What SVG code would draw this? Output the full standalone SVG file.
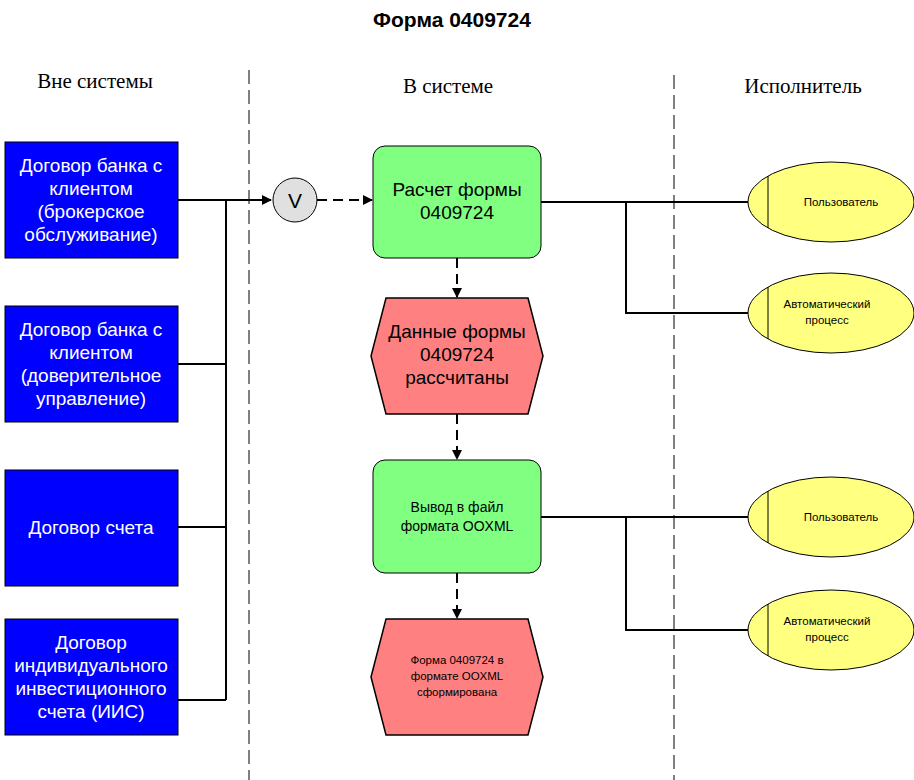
<svg xmlns="http://www.w3.org/2000/svg" width="914" height="780" viewBox="0 0 914 780">
<style>
.blue{fill:#0000ff;stroke:#000;stroke-width:1}
.green{fill:#80ff80;stroke:#000;stroke-width:1}
.red{fill:#ff8080;stroke:#000;stroke-width:1.5}
.yel{fill:#ffff80;stroke:#000;stroke-width:1}
.ln{fill:none;stroke:#000;stroke-width:2}
.dash{fill:none;stroke:#000;stroke-width:2;stroke-dasharray:10,6}
.sep{fill:none;stroke:#000;stroke-width:1;stroke-dasharray:14,6}
.t{font-family:"Liberation Sans",Arial,sans-serif;text-anchor:middle}
.h{font-family:"Liberation Serif","Times New Roman",serif;font-size:21px;text-anchor:middle}
</style>
<defs><marker id="a" markerWidth="10" markerHeight="10" refX="9" refY="5" orient="auto" markerUnits="userSpaceOnUse"><path d="M0,0 L10,5 L0,10 z" fill="#000"/></marker></defs>
<rect width="914" height="780" fill="#fff"/>
<text class="t" x="452" y="27" font-size="21" font-weight="bold">Форма 0409724</text>
<text class="h" x="95" y="88">Вне системы</text>
<text class="h" x="448" y="93">В системе</text>
<text class="h" x="803" y="93">Исполнитель</text>
<line class="sep" x1="249" y1="70" x2="249" y2="780"/>
<line class="sep" x1="674" y1="75" x2="674" y2="780"/>
<g id="connectors">
<path class="ln" d="M178,200 H226 M178,364 H226 M178,527 H226 M178,700 H226 M226,200 V700"/>
<path class="ln" d="M226,200 H271" marker-end="url(#a)"/>
<path class="dash" d="M317,200 H372" marker-end="url(#a)"/>
<path class="dash" d="M457,258 V297" marker-end="url(#a)"/>
<path class="dash" d="M457,414 V459" marker-end="url(#a)"/>
<path class="dash" d="M457,573 V618" marker-end="url(#a)"/>
<path class="ln" d="M541,202 H748 M626,202 V313 H748 M541,517 H748 M626,517 V630 H748"/>
</g>
<g id="b1"><rect class="blue" x="5" y="142" width="173" height="116"/><text class="t" font-size="19" fill="#fff"><tspan x="91" y="172">Договор банка с</tspan><tspan x="91" y="195">клиентом</tspan><tspan x="91" y="218">(брокерское</tspan><tspan x="91" y="241">обслуживание)</tspan></text></g>
<g id="b2"><rect class="blue" x="5" y="306" width="173" height="116"/><text class="t" font-size="19" fill="#fff"><tspan x="91" y="336">Договор банка с</tspan><tspan x="91" y="359">клиентом</tspan><tspan x="91" y="382">(доверительное</tspan><tspan x="91" y="405">управление)</tspan></text></g>
<g id="b3"><rect class="blue" x="5" y="470" width="173" height="116"/><text class="t" font-size="19" fill="#fff" x="91" y="534">Договор счета</text></g>
<g id="b4"><rect class="blue" x="5" y="619" width="173" height="116"/><text class="t" font-size="19" fill="#fff"><tspan x="91" y="649">Договор</tspan><tspan x="91" y="672">индивидуального</tspan><tspan x="91" y="695">инвестиционного</tspan><tspan x="91" y="718">счета (ИИС)</tspan></text></g>
<g id="v"><circle cx="295" cy="200" r="22" fill="#e0e0e0" stroke="#000"/><text class="t" x="295" y="208" font-size="21">V</text></g>
<g id="g1"><rect class="green" x="373" y="146" width="168" height="112" rx="12"/><text class="t" font-size="19"><tspan x="457" y="196">Расчет формы</tspan><tspan x="457" y="219">0409724</tspan></text></g>
<g id="r1"><polygon class="red" points="386,298 528,298 543,356 528,414 386,414 371,356"/><text class="t" font-size="19"><tspan x="457" y="338">Данные формы</tspan><tspan x="457" y="361">0409724</tspan><tspan x="457" y="384">рассчитаны</tspan></text></g>
<g id="g2"><rect class="green" x="373" y="460" width="168" height="113" rx="12"/><text class="t" font-size="14"><tspan x="457" y="512">Вывод в файл</tspan><tspan x="457" y="531">формата OOXML</tspan></text></g>
<g id="r2"><polygon class="red" points="386,619 528,619 543,677 528,735 386,735 371,677"/><text class="t" font-size="11.5"><tspan x="457" y="664">Форма 0409724 в</tspan><tspan x="457" y="680">формате OOXML</tspan><tspan x="457" y="696">сформирована</tspan></text></g>
<g id="e1"><ellipse class="yel" cx="831" cy="202" rx="83" ry="40"/><line x1="768" y1="176" x2="768" y2="228" stroke="#000"/><text class="t" x="841" y="206" font-size="11.5">Пользователь</text></g>
<g id="e2"><ellipse class="yel" cx="831" cy="313" rx="83" ry="40"/><line x1="768" y1="287" x2="768" y2="339" stroke="#000"/><text class="t" font-size="11.5"><tspan x="827" y="308">Автоматический</tspan><tspan x="827" y="324">процесс</tspan></text></g>
<g id="e3"><ellipse class="yel" cx="831" cy="517" rx="83" ry="40"/><line x1="768" y1="491" x2="768" y2="543" stroke="#000"/><text class="t" x="841" y="521" font-size="11.5">Пользователь</text></g>
<g id="e4"><ellipse class="yel" cx="831" cy="630" rx="83" ry="40"/><line x1="768" y1="604" x2="768" y2="656" stroke="#000"/><text class="t" font-size="11.5"><tspan x="827" y="625">Автоматический</tspan><tspan x="827" y="641">процесс</tspan></text></g>
</svg>
